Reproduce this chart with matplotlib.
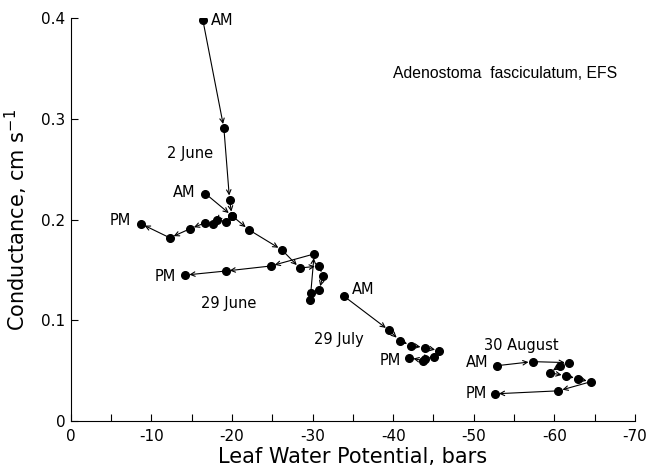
import matplotlib
matplotlib.use("Agg")
import matplotlib.pyplot as plt

# Leaf water potential (bars) and conductance (cm s-1) for each day
june2_lwp = [-16.4, -19.0, -19.7, -20.0, -19.3, -18.2, -17.7, -16.7, -14.8, -12.3, -8.7]
june2_g = [0.398, 0.291, 0.220, 0.204, 0.198, 0.200, 0.196, 0.197, 0.191, 0.182, 0.196]

june29_lwp = [-16.7, -20.0, -22.1, -26.2, -28.4, -30.8, -31.3, -30.8, -29.8, -29.7, -30.2, -24.8, -19.2, -14.2]
june29_g = [0.226, 0.204, 0.190, 0.170, 0.152, 0.154, 0.144, 0.130, 0.127, 0.120, 0.166, 0.154, 0.149, 0.145]

july29_lwp = [-33.9, -39.5, -40.8, -42.2, -43.9, -45.7, -45.1, -43.9, -43.7, -42.0]
july29_g = [0.124, 0.090, 0.080, 0.075, 0.073, 0.070, 0.064, 0.062, 0.060, 0.063]

aug30_lwp = [-52.9, -57.3, -61.8, -60.7, -59.4, -61.4, -62.9, -64.5, -60.5, -52.6]
aug30_g = [0.055, 0.059, 0.058, 0.055, 0.048, 0.045, 0.042, 0.039, 0.030, 0.027]

day_labels = ["2 June", "29 June", "29 July", "30 August"]
x_ticks = [0, -10, -20, -30, -40, -50, -60, -70]
x_ticklabels = ["0", "-10", "-20", "-30", "-40", "-50", "-60", "-70"]
y_ticks = [0, 0.1, 0.2, 0.3, 0.4]
y_ticklabels = ["0", "0.1", "0.2", "0.3", "0.4"]

plt.rcParams['font.family'] = ['DejaVu Sans']

fig = plt.figure(figsize=(6.47, 4.72), dpi=100)
ax = fig.add_axes([0.1093, 0.108, 0.8722, 0.853])

series = [(june2_lwp, june2_g), (june29_lwp, june29_g),
          (july29_lwp, july29_g), (aug30_lwp, aug30_g)]

for xs, ys in series:
    ax.plot(xs, ys, 'o', color='black', ms=5.5, zorder=3)
    for i in range(len(xs) - 1):
        ax.annotate('', xy=(xs[i + 1], ys[i + 1]), xytext=(xs[i], ys[i]),
                    arrowprops=dict(arrowstyle='->', color='black', lw=0.8,
                                    shrinkA=0, shrinkB=3, mutation_scale=8))

ax.set_xlim(0, -70)
ax.set_ylim(0, 0.4)
ax.set_xticks(x_ticks)
ax.set_xticklabels(x_ticklabels)
ax.set_xticks([-5, -15, -25, -35, -45, -55, -65], minor=True)
ax.set_yticks(y_ticks)
ax.set_yticklabels(y_ticklabels)
for s in ['top', 'right']:
    ax.spines[s].set_visible(False)
for s in ['left', 'bottom']:
    ax.spines[s].set_linewidth(0.8)
ax.tick_params(axis='both', which='both', direction='in', labelsize=11, width=0.8)
ax.tick_params(axis='x', which='major', length=5, pad=6)
ax.tick_params(axis='x', which='minor', length=5)
ax.tick_params(axis='y', which='major', length=5, pad=4)

ax.set_xlabel('Leaf Water Potential, bars', fontsize=15, labelpad=2)
ax.set_ylabel('Conductance, cm s$^{-1}$', fontsize=15, labelpad=8)

lbl = dict(fontsize=10.5, color='black')
# AM / PM labels relative to first / last point of each day
ax.annotate('AM', xy=(june2_lwp[0], june2_g[0]), xytext=(6, 0), textcoords='offset points', ha='left', va='center', **lbl)
ax.annotate('PM', xy=(june2_lwp[-1], june2_g[-1]), xytext=(-7, 2), textcoords='offset points', ha='right', va='center', **lbl)
ax.annotate('AM', xy=(june29_lwp[0], june29_g[0]), xytext=(-7, 1), textcoords='offset points', ha='right', va='center', **lbl)
ax.annotate('PM', xy=(june29_lwp[-1], june29_g[-1]), xytext=(-7, -1), textcoords='offset points', ha='right', va='center', **lbl)
ax.annotate('AM', xy=(july29_lwp[0], july29_g[0]), xytext=(6, 5), textcoords='offset points', ha='left', va='center', **lbl)
ax.annotate('PM', xy=(july29_lwp[-1], july29_g[-1]), xytext=(-6, -2), textcoords='offset points', ha='right', va='center', **lbl)
ax.annotate('AM', xy=(aug30_lwp[0], aug30_g[0]), xytext=(-6, 2), textcoords='offset points', ha='right', va='center', **lbl)
ax.annotate('PM', xy=(aug30_lwp[-1], aug30_g[-1]), xytext=(-6, 0), textcoords='offset points', ha='right', va='center', **lbl)

ax.text(-12.0, 0.266, day_labels[0], ha='left', va='center', **lbl)
ax.text(-16.1, 0.117, day_labels[1], ha='left', va='center', **lbl)
ax.text(-30.2, 0.081, day_labels[2], ha='left', va='center', **lbl)
ax.text(-51.3, 0.075, day_labels[3], ha='left', va='center', **lbl)

ax.text(0.968, 0.864, 'Adenostoma  fasciculatum, EFS', transform=ax.transAxes,
        ha='right', va='center', fontsize=11.3, family=['Liberation Sans', 'DejaVu Sans'])

fig.savefig('out.png', dpi=100)
